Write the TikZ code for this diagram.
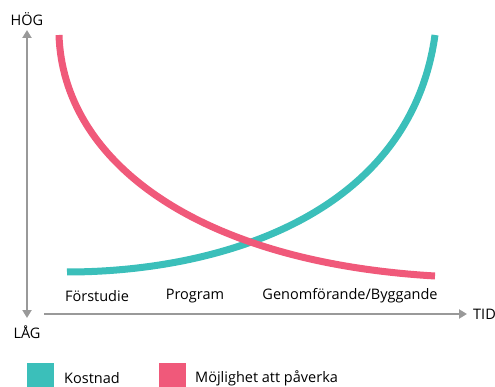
\documentclass[tikz,border=0pt]{standalone}
\usepackage{fontspec}
\setmainfont{Open Sans}
\usetikzlibrary{arrows.meta}
\definecolor{teal}{HTML}{3BBFBA}
\definecolor{pinkc}{HTML}{F0597A}
\definecolor{axisgray}{HTML}{999999}
\begin{document}
\begin{tikzpicture}[x=1pt,y=-1pt,
  lbl/.style={font=\fontsize{14.5}{17}\selectfont, text=black, inner sep=0pt},
  axis/.style={axisgray, line width=2pt, -{Triangle[length=8pt,width=9pt]}},
  curve/.style={line width=7pt}]
\useasboundingbox (0,0) rectangle (495,387);
% axes
\coordinate (ytop) at (27,30);
\coordinate (ybot) at (27,318);
\coordinate (ymid) at (27,170);
\coordinate (xl) at (44,314);
\coordinate (xr) at (467,314);
\draw[axis] (ymid) -- (ytop);
\draw[axis] (ymid) -- (ybot);
\draw[axis] (xl) -- (xr);
\node[lbl] (hog) at (27,19) {HÖG};
\node[lbl] (lag) at (27,332) {LÅG};
\node[lbl, anchor=west] (tid) at (473,314) {TID};
% phases
\node[lbl] (f) at (97,296) {Förstudie};
\node[lbl] (p) at (195,296) {Program};
\node[lbl] (g) at (350,296) {Genomförande/Byggande};
% curves
\coordinate (k0) at (67,272);
\coordinate (k1) at (435,35);
\coordinate (m0) at (59,35);
\coordinate (m1) at (435,276);
\draw[curve, teal] (k0) .. controls (220,272) and (410,215) .. (k1);
\draw[curve, pinkc] (m0) .. controls (63,160) and (195,262) .. (m1);
% legend
\fill[teal] (27,363) rectangle (54,390);
\node[lbl, anchor=west] (kl) at (64,378) {Kostnad};
\fill[pinkc] (159,363) rectangle (186,390);
\node[lbl, anchor=west] (ml) at (195,378) {Möjlighet att påverka};
\end{tikzpicture}
\end{document}
